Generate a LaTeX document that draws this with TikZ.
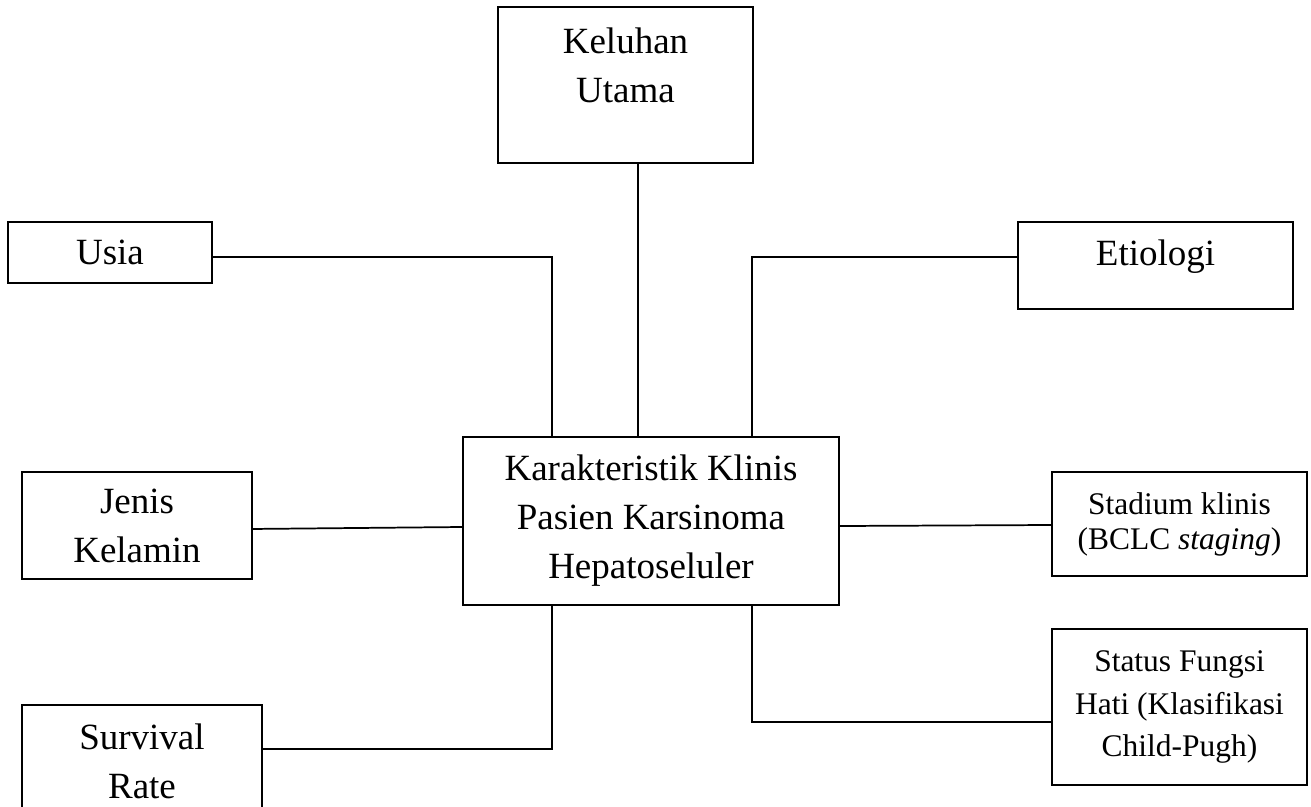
\documentclass[tikz,border=0pt]{standalone}
\usepackage{fontspec}
\setmainfont{Liberation Serif}

\begin{document}
\begin{tikzpicture}[x=0.75pt,y=-0.75pt,line width=1.3pt,
		box/.style={draw, align=center, inner sep=0pt},
		big/.style={font=\fontsize{27.75}{36.75}\selectfont},
		small/.style={font=\fontsize{23.6}{26.25}\selectfont},
		smallwide/.style={font=\fontsize{23.6}{31.9}\selectfont}]
			\useasboundingbox (0,0) rectangle (1311,807);
			\node[box, minimum width=191.25pt, minimum height=117pt, label={[big, align=center, yshift=14.6pt]center:Keluhan\\Utama}] (kel) at (625.5,85) {};
			\node[box, big, minimum width=153pt, minimum height=45.75pt] (usia) at (110,252.5) {Usia};
			\node[box, minimum width=206.25pt, minimum height=65.25pt, label={[big, yshift=6.4pt]center:Etiologi}] (eti) at (1155.5,265.5) {};
			\node[box, big, minimum width=172.5pt, minimum height=80.25pt] (jk) at (137,525.5) {Jenis\\Kelamin};
			\node[box, big, minimum width=282pt, minimum height=126pt] (pasien) at (651,521) {Karakteristik Klinis\\Pasien Karsinoma\\Hepatoseluler};
			\node[box, small, minimum width=191.25pt, minimum height=78pt] (stad) at (1179.5,524) {Stadium klinis\\(BCLC \textit{staging})};
			\node[box, smallwide, minimum width=191.25pt, minimum height=117pt] (fungsi) at (1179.5,707) {Status Fungsi\\Hati (Klasifikasi\\Child-Pugh)};
			\node[box, minimum width=180pt, minimum height=117pt, label={[big, align=center, yshift=16.1pt]center:Survival\\Rate}] (surv) at (142,783) {};
			\coordinate (kx) at ([xshift=-9.75pt]pasien.north);
			\draw ([yshift=-3.4pt]usia.east) -| ([xshift=-74.25pt]pasien.north);
			\draw (kx) -- (kx |- kel.south);
			\draw ([yshift=6.4pt]eti.west) -| ([xshift=75.75pt]pasien.north);
			\draw ([yshift=-2.6pt]jk.east) -- ([yshift=-4.5pt]pasien.west);
			\draw ([yshift=-3.75pt]pasien.east) -- ([yshift=-0.75pt]stad.west);
			\draw ([xshift=-74.25pt]pasien.south) |- ([yshift=25.5pt]surv.east);
			\draw ([xshift=75.75pt]pasien.south) |- ([yshift=-11.25pt]fungsi.west);
		\end{tikzpicture}
\end{document}
